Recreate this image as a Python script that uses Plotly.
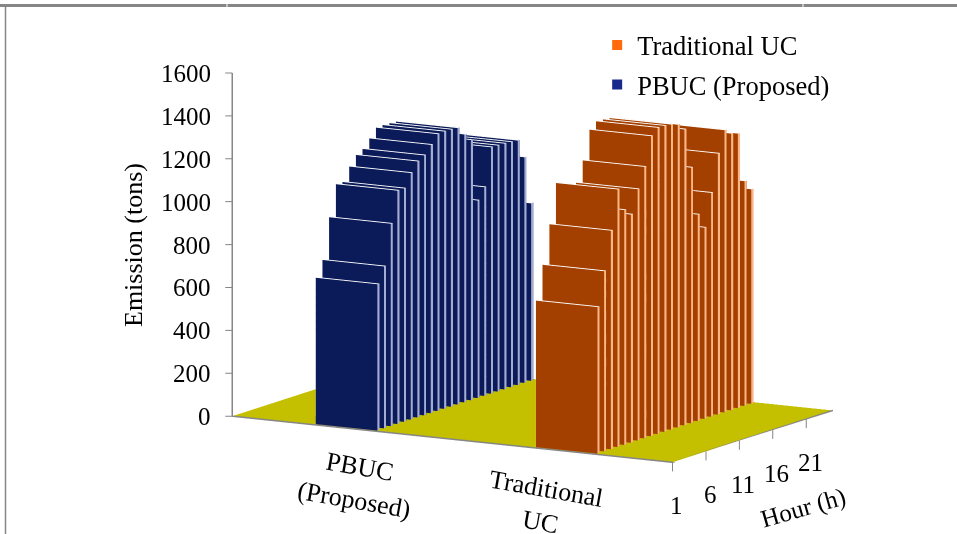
import plotly.graph_objects as go

categories = ["PBUC<br>(Proposed)", "Traditional<br>UC"]
series_names = ["Traditional UC", "PBUC (Proposed)"]
hours = list(range(1, 25))
hour_ticks = [1, 6, 11, 16, 21]
z_ticks = [0, 200, 400, 600, 800, 1000, 1200, 1400, 1600]
pbuc = [682, 755, 944, 1088, 1088, 1150, 1194, 1212, 1251, 1291, 1293, 1292,
        1289, 1249, 1213, 921, 973, 1149, 1147, 1146, 1143, 1140, 1052, 827]
trad = [683, 840, 1019, 1201, 1095, 1064, 1172, 1266, 1399, 1428, 1427, 1423,
        1412, 1380, 1192, 963, 892, 1044, 1217, 1316, 1290, 1280, 1048, 1000]

FONT = "Liberation Serif"
GREY = "#868686"
XR, YR, ZR = [-0.06, 2.0], [-0.6, 24.0], [-50, 1600]
PX = (253, 13.5, 0.218)
K = 242.7


def bars(cat, values, front, side, top):
    xs, ys, zs, i, j, k, fc = [], [], [], [], [], [], []
    x0, x1 = cat + 0.37, cat + 0.65
    for h, v in enumerate(values):
        y0, y1 = h + 0.3, h + 0.62
        n = len(xs)
        xs += [x0, x1, x1, x0, x0, x1, x1, x0]
        ys += [y0, y0, y1, y1, y0, y0, y1, y1]
        zs += [0, 0, 0, 0, v, v, v, v]
        faces = [((0, 1, 5), front), ((0, 5, 4), front),
                 ((1, 2, 6), side), ((1, 6, 5), side),
                 ((4, 5, 6), top), ((4, 6, 7), top),
                 ((3, 2, 6), front), ((3, 6, 7), front),
                 ((0, 3, 7), side), ((0, 7, 4), side)]
        for (a, b, c), col in faces:
            i.append(n + a); j.append(n + b); k.append(n + c); fc.append(col)
    return go.Mesh3d(x=xs, y=ys, z=zs, i=i, j=j, k=k, facecolor=fc, flatshading=True,
                     lighting=dict(ambient=1, diffuse=0, specular=0, fresnel=0, roughness=1),
                     hoverinfo="skip", showlegend=False, showscale=False)


fig = go.Figure()
fig.add_trace(go.Mesh3d(x=[0, 2, 2, 0], y=[0, 0, 24, 24], z=[0, 0, 0, 0], i=[0, 0], j=[1, 2], k=[2, 3],
                        facecolor=["#C4C000", "#C4C000"],
                        lighting=dict(ambient=1, diffuse=0, specular=0, fresnel=0, roughness=1),
                        hoverinfo="skip", showlegend=False))
fig.add_trace(bars(0, pbuc, "#0B1A58", "#A4ACD4", "#FFFFFF"))
fig.add_trace(bars(1, trad, "#A34000", "#FFB484", "#FFFFFF"))


def line(x, y, z, w=3):
    fig.add_trace(go.Scatter3d(x=x, y=y, z=z, mode="lines", line=dict(color=GREY, width=w),
                               hoverinfo="skip", showlegend=False))


line([0, 0, 2, 2], [0, 0, 0, 24], [1600, 0, 0, 0])
for t in z_ticks:
    line([0, -0.024], [0, -0.255], [t, t], 2)
for h in hour_ticks:
    line([2, 2], [h - 1, h - 1], [0, -42], 2)

fig.add_trace(go.Scatter3d(x=[None], y=[None], z=[None], mode="markers", name=series_names[0], legendgroup="a",
                           marker=dict(symbol="square", size=10, color="#FF6A0D")))
fig.add_trace(go.Scatter3d(x=[None], y=[None], z=[None], mode="markers", name=series_names[1], legendgroup="b",
                           marker=dict(symbol="square", size=10, color="#1A2A8A")))

ann = []
for t in z_ticks:
    ann.append(dict(x=0, y=0, z=t, text=str(t), showarrow=False, xanchor="right", xshift=-19,
                    font=dict(family=FONT, size=25, color="#000")))
for h in hour_ticks:
    ann.append(dict(x=2, y=h - 1, z=0, text=str(h), showarrow=False, xshift=4, yshift=-43,
                    font=dict(family=FONT, size=25, color="#000")))
ann.append(dict(x=0.72, y=0, z=0, text=categories[0], showarrow=False, textangle=10, xshift=-34, yshift=-50,
                font=dict(family=FONT, size=26, color="#000")))
ann.append(dict(x=1.43, y=0, z=0, text=categories[1], showarrow=False, textangle=10, xshift=-4, yshift=-56,
                font=dict(family=FONT, size=26, color="#000")))
ann.append(dict(x=2, y=16, z=0, text="Hour (h)", showarrow=False, textangle=-16, xshift=24, yshift=-80,
                font=dict(family=FONT, size=25, color="#000")))

r = lambda a: a[1] - a[0]
notch = lambda px: dict(type="line", xref="paper", yref="paper", x0=px / 957, x1=px / 957,
                        y0=1 - 4 / 534, y1=1 - 7 / 534, line=dict(color="white", width=1))
fig.update_layout(
    width=957, height=534, margin=dict(l=0, r=0, t=0, b=0),
    paper_bgcolor="white", showlegend=True,
    legend=dict(x=0.624, y=0.96, xanchor="left", yanchor="top", tracegroupgap=2, bgcolor="rgba(0,0,0,0)",
                font=dict(family=FONT, size=26.5, color="#000")),
    scene=dict(
        domain=dict(x=[0.1027, 0.9927], y=[0.0816, 0.9916]),
        xaxis=dict(range=XR, visible=False), yaxis=dict(range=YR, visible=False), zaxis=dict(range=ZR, visible=False),
        aspectmode="manual",
        aspectratio=dict(x=r(XR) * PX[0] / K, y=r(YR) * PX[1] / K, z=r(ZR) * PX[2] / K),
        camera=dict(projection=dict(type="orthographic"), eye=dict(x=0.486, y=-0.854, z=0.184),
                    center=dict(x=0, y=0, z=0), up=dict(x=0, y=0, z=1)),
        annotations=ann,
    ),
    annotations=[dict(x=133 / 957, y=1 - 245 / 534, xref="paper", yref="paper", text="Emission (tons)", textangle=-90,
                      xanchor="center", yanchor="middle", showarrow=False,
                      font=dict(family=FONT, size=26, color="#000"))],
    shapes=[dict(type="line", xref="paper", yref="paper", x0=0, x1=1, y0=1 - 5.5 / 534, y1=1 - 5.5 / 534,
                 line=dict(color=GREY, width=3)),
            dict(type="line", xref="paper", yref="paper", x0=5.5 / 957, x1=5.5 / 957, y0=0, y1=1 - 5.5 / 534,
                 line=dict(color=GREY, width=1.5)),
            notch(227), notch(803)],
)
fig.write_html("out.html", config=dict(displayModeBar=False),
               post_script="document.body.style.margin='0';document.body.style.overflow='hidden';")
